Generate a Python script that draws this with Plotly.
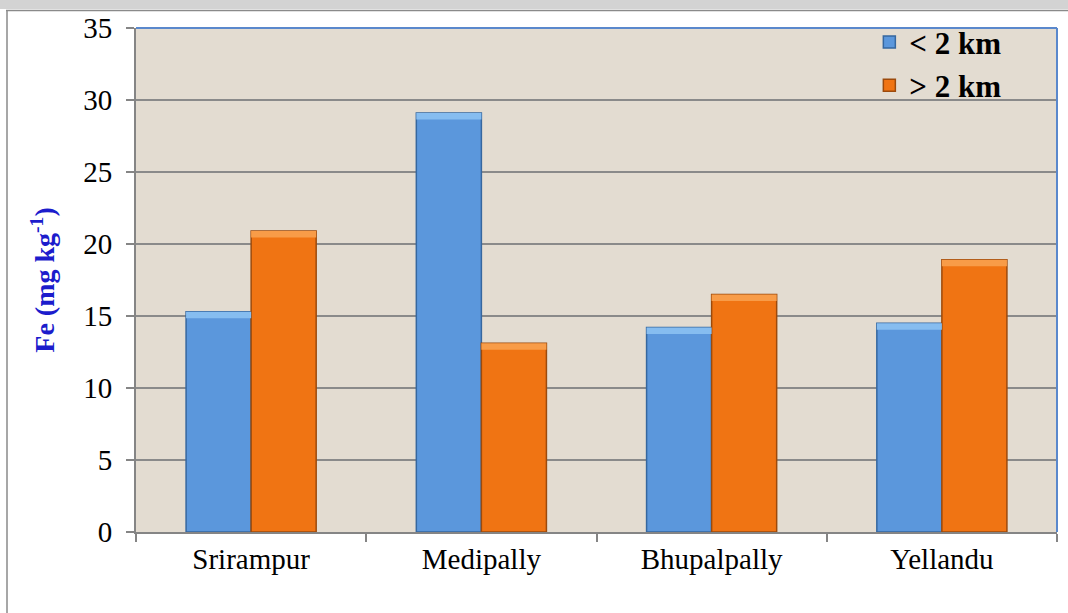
import plotly.graph_objects as go

# Fe content in soil by mining area and distance from the mine
sites = ["Srirampur", "Medipally", "Bhupalpally", "Yellandu"]
fe_near = [15.3, 29.1, 14.2, 14.5]   # < 2 km
fe_far = [20.9, 13.1, 16.5, 18.9]    # > 2 km
y_ticks = [0, 5, 10, 15, 20, 25, 30, 35]

W, H = 1068, 613
L, R, T, B = 136, 11, 28, 81   # plot-area margins in px
BEVEL = 0.45                   # depth of the lighter top band, in data units


def px_x(p):
    return (p - L) / (W - L - R)


def px_y(p):
    return (H - B - p) / (H - B - T)


SERIF = "Liberation Serif, Times New Roman, serif"

fig = go.Figure()
fig.add_trace(go.Bar(
    x=sites, y=fe_near, name="< 2 km", offsetgroup="near",
    marker=dict(color="#5b97dc", line=dict(color="#36679f", width=1.5)),
))
fig.add_trace(go.Bar(
    x=sites, y=fe_far, name="> 2 km", offsetgroup="far",
    marker=dict(color="#f07413", line=dict(color="#9c4a0c", width=1.5)),
))
# lighter bevel band along the top of each bar
fig.add_trace(go.Bar(
    x=sites, y=[BEVEL] * len(sites), base=[v - BEVEL for v in fe_near],
    offsetgroup="near", showlegend=False, hoverinfo="skip",
    marker=dict(color="#86bdf0", line=dict(width=0)),
))
fig.add_trace(go.Bar(
    x=sites, y=[BEVEL] * len(sites), base=[v - BEVEL for v in fe_far],
    offsetgroup="far", showlegend=False, hoverinfo="skip",
    marker=dict(color="#f89c48", line=dict(width=0)),
))

shapes = [
    # grey caption strip across the top of the page
    dict(type="rect", xref="paper", yref="paper",
         x0=px_x(0), x1=px_x(W), y0=px_y(9), y1=px_y(-2),
         fillcolor="#d3d3d3", line=dict(width=0), layer="below"),
    # outer chart frame (top and left)
    dict(type="line", xref="paper", yref="paper",
         x0=px_x(6), x1=px_x(W), y0=px_y(10.5), y1=px_y(10.5),
         line=dict(color="#8a8a8a", width=1.5)),
    dict(type="line", xref="paper", yref="paper",
         x0=px_x(7), x1=px_x(7), y0=px_y(10.5), y1=px_y(H),
         line=dict(color="#8a8a8a", width=1.5)),
    # blue border on top and right of the plot area
    dict(type="line", xref="paper", yref="paper",
         x0=0, x1=1, y0=1, y1=1, line=dict(color="#5a88cc", width=2)),
    dict(type="line", xref="paper", yref="paper",
         x0=1, x1=1, y0=0, y1=1, line=dict(color="#5a88cc", width=2)),
]

fig.update_layout(
    width=W, height=H,
    margin=dict(l=L, r=R, t=T, b=B),
    paper_bgcolor="white",
    plot_bgcolor="#e3dcd1",
    barmode="group", bargap=0.435, bargroupgap=0,
    font=dict(family=SERIF, size=29, color="black"),
    shapes=shapes,
    showlegend=True,
    legend=dict(
        x=0.945, y=1.025, xanchor="right", yanchor="top",
        bgcolor="rgba(0,0,0,0)",
        font=dict(family=SERIF, size=31, color="black", weight="bold"),
        itemwidth=30, tracegroupgap=0,
    ),
    xaxis=dict(
        type="category",
        showline=True, linecolor="#858585", linewidth=2,
        ticks="outside", ticklen=8, tickcolor="#858585", tickwidth=2,
        tickson="boundaries",
        tickfont=dict(family=SERIF, size=29),
        showgrid=False,
    ),
    yaxis=dict(
        range=[0, 35], tickvals=y_ticks,
        showline=True, linecolor="#858585", linewidth=2,
        ticks="outside", ticklen=8, tickcolor="#858585", tickwidth=2,
        ticklabelstandoff=8,
        gridcolor="#8a8a8a", gridwidth=1.5,
        tickfont=dict(family=SERIF, size=29),
        title=dict(
            text="Fe (mg kg<sup>-1</sup>)",
            font=dict(family=SERIF, size=28, color="#1c1ccc", weight="bold"),
            standoff=20,
        ),
        zeroline=False,
    ),
)

fig.write_html("out.html")
